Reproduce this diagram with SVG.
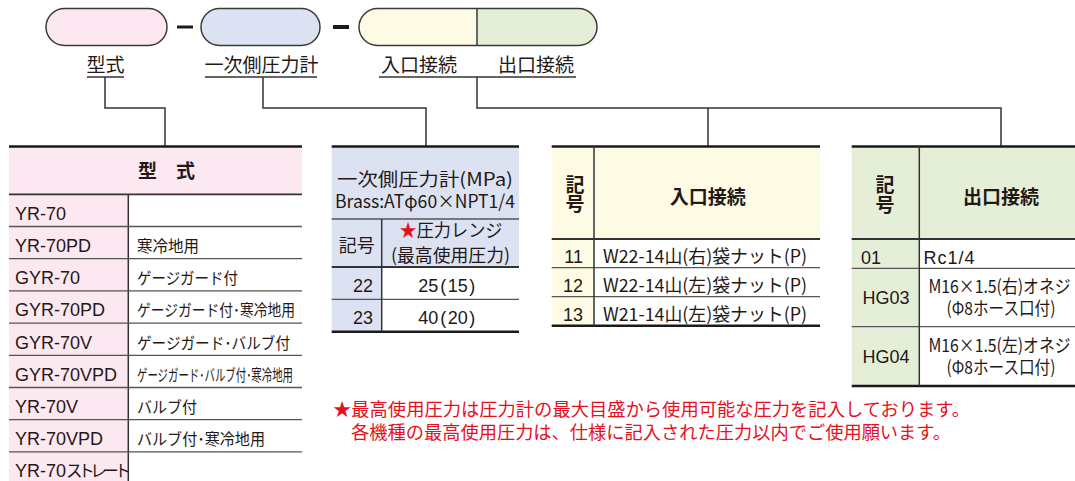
<svg xmlns="http://www.w3.org/2000/svg" width="1075" height="481" viewBox="0 0 1075 481">
<style>
.pill{stroke:#3a3a3a;stroke-width:1.5}
.lbl{font-family:"Noto Sans CJK JP","Liberation Sans",sans-serif;font-size:19px;fill:#231815}
.ul{stroke:#333;stroke-width:1.5}
.conn{fill:none;stroke:#333;stroke-width:1.5}
.thick{stroke:#1a1a1a;stroke-width:2.6}
.mid{stroke:#333;stroke-width:1.8}
.thin{stroke:#555;stroke-width:1.3}
.vdiv{stroke:#333;stroke-width:1.5}
.lat{font-family:"Liberation Sans","Noto Sans CJK JP",sans-serif;font-size:18px;fill:#231815}
.jp{font-family:"Noto Sans CJK JP",sans-serif;font-size:16px;fill:#231815}
.hd{font-family:"Noto Sans CJK JP",sans-serif;font-size:19px;font-weight:bold;fill:#231815}
.hr{font-family:"Noto Sans CJK JP",sans-serif;font-size:18px;fill:#231815}
.mx{font-family:"Noto Sans CJK JP","Liberation Sans",sans-serif;font-size:18px;fill:#231815}
.note{font-family:"Noto Sans CJK JP",sans-serif;font-size:18px;fill:#e60f1e}
.red{fill:#e60f1e}
.pink{fill:#fce8f0}
.lav{fill:#dde2f3}
.yel{fill:#fdfbe4}
.grn{fill:#e5efd8}
</style>

<g id="pill-model">
<rect class="pill pink" x="46" y="8.5" width="121" height="37" rx="18.5"/>
</g>
<g id="dash-1"><line x1="177" y1="27" x2="193" y2="27" stroke="#1a1a1a" stroke-width="3"/></g>
<g id="pill-gauge">
<rect class="pill lav" x="201" y="8.5" width="119" height="37" rx="18.5"/>
</g>
<g id="dash-2"><line x1="333" y1="27" x2="349" y2="27" stroke="#1a1a1a" stroke-width="4"/></g>
<g id="pill-connection">
<path class="yel" d="M477,8.5 H377.5 A18.5,18.5 0 0 0 377.5,45.5 H477 Z"/>
<path class="grn" d="M477,8.5 H578.5 A18.5,18.5 0 0 1 578.5,45.5 H477 Z"/>
<rect class="pill" fill="none" x="359" y="8.5" width="238" height="37" rx="18.5"/>
<line x1="477" y1="8.5" x2="477" y2="45.5" stroke="#3a3a3a" stroke-width="1.5"/>
</g>

<g id="label-model">
<text class="lbl" x="105.5" y="71.5" text-anchor="middle">型式</text>
<line class="ul" x1="87" y1="77" x2="124" y2="77"/>
</g>
<g id="label-gauge">
<text class="lbl" x="261.5" y="71.5" text-anchor="middle" font-size="18.5">一次側圧力計</text>
<line class="ul" x1="205" y1="77" x2="317" y2="77"/>
</g>
<g id="label-connection">
<text class="lbl" x="419" y="71.5" text-anchor="middle">入口接続</text>
<text class="lbl" x="536" y="71.5" text-anchor="middle">出口接続</text>
<line class="ul" x1="379" y1="77" x2="576" y2="77"/>
</g>

<g id="connectors">
<path class="conn" d="M105,77 V108 H165 V146"/>
<path class="conn" d="M263,77 V108 H426 V146"/>
<path class="conn" d="M477,77 V108 H1001 V146"/>
<path class="conn" d="M708,108 V146"/>
</g>

<g id="table-model">
<rect class="pink" x="9" y="146" width="293" height="48.3"/>
<rect class="pink" x="9" y="194.3" width="119.3" height="290"/>
<line class="thick" x1="9" y1="146.5" x2="302" y2="146.5"/>
<line class="mid" x1="9" y1="194.3" x2="302" y2="194.3"/>
<line class="vdiv" x1="128.3" y1="194.3" x2="128.3" y2="481"/>
<g class="thin">
<line x1="9" y1="226.5" x2="302" y2="226.5"/>
<line x1="9" y1="258.7" x2="302" y2="258.7"/>
<line x1="9" y1="290.9" x2="302" y2="290.9"/>
<line x1="9" y1="323.1" x2="302" y2="323.1"/>
<line x1="9" y1="355.3" x2="302" y2="355.3"/>
<line x1="9" y1="387.5" x2="302" y2="387.5"/>
<line x1="9" y1="419.7" x2="302" y2="419.7"/>
<line x1="9" y1="451.9" x2="302" y2="451.9"/>
</g>
<text class="hd" x="166.5" y="178" text-anchor="middle">型　式</text>
<text class="lat" x="15" y="219.8">YR-70</text>
<text class="lat" x="15" y="252">YR-70PD</text>
<text class="lat" x="15" y="284.2">GYR-70</text>
<text class="lat" x="15" y="316.4">GYR-70PD</text>
<text class="lat" x="15" y="348.6">GYR-70V</text>
<text class="lat" x="15" y="380.8">GYR-70VPD</text>
<text class="lat" x="15" y="413">YR-70V</text>
<text class="lat" x="15" y="445.2">YR-70VPD</text>
<text class="lat" x="15" y="477.4">YR-70<tspan font-family="Noto Sans CJK JP, sans-serif" font-size="16.5" letter-spacing="-4.4">ストレート</tspan></text>
<text class="jp" x="137" y="252" textLength="62" lengthAdjust="spacingAndGlyphs">寒冷地用</text>
<text class="jp" x="137" y="284.2" textLength="101" lengthAdjust="spacingAndGlyphs">ゲージガード付</text>
<text class="jp" x="137" y="316.4" textLength="158" lengthAdjust="spacingAndGlyphs">ゲージガード付･寒冷地用</text>
<text class="jp" x="137" y="348.6" textLength="153" lengthAdjust="spacingAndGlyphs">ゲージガード･バルブ付</text>
<text class="jp" x="137" y="380.8" textLength="156" lengthAdjust="spacingAndGlyphs">ゲージガード･バルブ付･寒冷地用</text>
<text class="jp" x="137" y="413" textLength="60" lengthAdjust="spacingAndGlyphs">バルブ付</text>
<text class="jp" x="137" y="445.2" textLength="128" lengthAdjust="spacingAndGlyphs">バルブ付･寒冷地用</text>
</g>

<g id="table-gauge">
<rect class="lav" x="331.7" y="146" width="187.3" height="121"/>
<rect class="lav" x="331.7" y="267" width="50" height="64.7"/>
<line class="thick" x1="331.7" y1="146.5" x2="519" y2="146.5"/>
<line class="thin" x1="331.7" y1="219" x2="519" y2="219"/>
<line class="mid" x1="331.7" y1="267" x2="519" y2="267"/>
<line class="thin" x1="331.7" y1="299.3" x2="519" y2="299.3"/>
<line class="thick" x1="331.7" y1="331.7" x2="519" y2="331.7"/>
<line class="vdiv" x1="381.7" y1="219" x2="381.7" y2="331.7"/>
<text class="hr" x="425" y="185.5" text-anchor="middle" textLength="176" lengthAdjust="spacingAndGlyphs">一次側圧力計(MPa)</text>
<text class="mx" x="425" y="208" text-anchor="middle" font-size="17" textLength="180" lengthAdjust="spacingAndGlyphs">Brass:ATφ60×NPT1/4</text>
<text class="hr" x="356.7" y="251.5" text-anchor="middle">記号</text>
<text class="hr" x="451" y="237" text-anchor="middle" textLength="103" lengthAdjust="spacingAndGlyphs"><tspan class="red">★</tspan>圧力レンジ</text>
<text class="hr" x="450.5" y="262" text-anchor="middle" textLength="119" lengthAdjust="spacingAndGlyphs">(最高使用圧力)</text>
<text class="lat" x="373" y="291.5" text-anchor="end">22</text>
<text class="lat" x="446.7" y="291.5" text-anchor="middle" font-size="19">25<tspan dx="2">(</tspan><tspan dx="1.5">15</tspan><tspan dx="1.5">)</tspan></text>
<text class="lat" x="373" y="323.8" text-anchor="end">23</text>
<text class="lat" x="446.7" y="323.8" text-anchor="middle" font-size="19">40<tspan dx="2">(</tspan><tspan dx="1.5">20</tspan><tspan dx="1.5">)</tspan></text>
</g>

<g id="table-inlet">
<rect class="yel" x="551.7" y="146" width="268.3" height="93"/>
<rect class="yel" x="551.7" y="239" width="42.3" height="86.7"/>
<line class="thick" x1="551.7" y1="146.5" x2="820" y2="146.5"/>
<line class="mid" x1="551.7" y1="239" x2="820" y2="239"/>
<line class="thin" x1="551.7" y1="267.7" x2="820" y2="267.7"/>
<line class="thin" x1="551.7" y1="296.7" x2="820" y2="296.7"/>
<line class="thick" x1="551.7" y1="325.7" x2="820" y2="325.7"/>
<line class="vdiv" x1="594" y1="146" x2="594" y2="325.7"/>
<text class="hd" x="575" y="191.5" text-anchor="middle" font-size="17">記</text>
<text class="hd" x="575" y="211" text-anchor="middle" font-size="17">号</text>
<text class="hd" x="707.7" y="203.5" text-anchor="middle">入口接続</text>
<text class="lat" x="583" y="262.5" text-anchor="end">11</text>
<text class="lat" x="583" y="291.5" text-anchor="end">12</text>
<text class="lat" x="583" y="320.5" text-anchor="end">13</text>
<text class="mx" x="603" y="262.5" textLength="204" lengthAdjust="spacingAndGlyphs">W22-14山(右)袋ナット(P)</text>
<text class="mx" x="603" y="291.5" textLength="204" lengthAdjust="spacingAndGlyphs">W22-14山(左)袋ナット(P)</text>
<text class="mx" x="603" y="320.5" textLength="204" lengthAdjust="spacingAndGlyphs">W21-14山(左)袋ナット(P)</text>
</g>

<g id="table-outlet">
<rect class="grn" x="851.7" y="146" width="223.3" height="93"/>
<rect class="grn" x="851.7" y="239" width="67.6" height="147"/>
<line class="thick" x1="851.7" y1="146.5" x2="1075" y2="146.5"/>
<line class="mid" x1="851.7" y1="239" x2="1075" y2="239"/>
<line class="thin" x1="851.7" y1="268.3" x2="1075" y2="268.3"/>
<line class="thin" x1="851.7" y1="326.7" x2="1075" y2="326.7"/>
<line class="thick" x1="851.7" y1="386" x2="1075" y2="386"/>
<line class="vdiv" x1="919.3" y1="146" x2="919.3" y2="386"/>
<text class="hd" x="885" y="192" text-anchor="middle" font-size="17">記</text>
<text class="hd" x="885" y="211.5" text-anchor="middle" font-size="17">号</text>
<text class="hd" x="1001" y="203.5" text-anchor="middle">出口接続</text>
<text class="lat" x="861" y="263.5">01</text>
<text class="lat" x="923.5" y="263.5" letter-spacing="1">Rc1/4</text>
<text class="lat" x="862.5" y="303.5">HG03</text>
<text class="mx" x="999.5" y="293" text-anchor="middle" font-size="17" textLength="142" lengthAdjust="spacingAndGlyphs">M16×1.5(右)オネジ</text>
<text class="mx" x="1001" y="315" text-anchor="middle" font-size="17" textLength="109" lengthAdjust="spacingAndGlyphs">(Φ8ホース口付)</text>
<text class="lat" x="862.5" y="362.8">HG04</text>
<text class="mx" x="999.5" y="351.5" text-anchor="middle" font-size="17" textLength="142" lengthAdjust="spacingAndGlyphs">M16×1.5(左)オネジ</text>
<text class="mx" x="1001" y="373.5" text-anchor="middle" font-size="17" textLength="109" lengthAdjust="spacingAndGlyphs">(Φ8ホース口付)</text>
</g>

<g id="note">
<text class="note" x="333" y="416" textLength="637" lengthAdjust="spacingAndGlyphs">★最高使用圧力は圧力計の最大目盛から使用可能な圧力を記入しております。</text>
<text class="note" x="351" y="439" textLength="600" lengthAdjust="spacingAndGlyphs">各機種の最高使用圧力は、仕様に記入された圧力以内でご使用願います。</text>
</g>
</svg>
